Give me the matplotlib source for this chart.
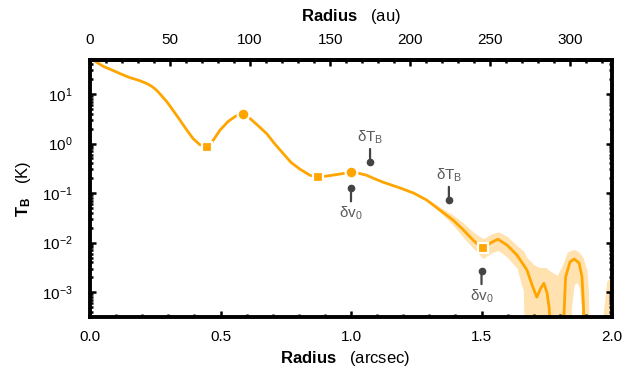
import numpy as np
import matplotlib
matplotlib.use("Agg")
import matplotlib.pyplot as plt
from matplotlib.ticker import MultipleLocator, FixedLocator, LogLocator, NullFormatter, LogFormatterMathtext

plt.rcParams['font.family'] = ['Liberation Sans', 'DejaVu Sans']
plt.rcParams['mathtext.fontset'] = 'custom'
plt.rcParams['mathtext.rm'] = 'Liberation Sans'
plt.rcParams['mathtext.it'] = 'Liberation Sans:italic'
plt.rcParams['mathtext.bf'] = 'Liberation Sans:bold'

# ---- data (radius in arcsec, log10 T_B in K) ----
r_line = [0.0, 0.02, 0.05, 0.088, 0.12, 0.153, 0.19, 0.218, 0.235, 0.25, 0.265, 0.28, 0.295,
          0.31, 0.325, 0.345, 0.37, 0.395, 0.42, 0.448, 0.47, 0.498, 0.53, 0.563, 0.587,
          0.61, 0.64, 0.677, 0.71, 0.74, 0.77, 0.805, 0.843, 0.874, 0.94, 1.0, 1.03, 1.06,
          1.09, 1.123, 1.19, 1.24, 1.29, 1.34, 1.39, 1.43, 1.468, 1.49, 1.506, 1.54, 1.563,
          1.598, 1.636, 1.674, 1.697, 1.712, 1.727, 1.739, 1.751, 1.759, 1.765, 1.77, 1.81,
          1.815, 1.822, 1.839, 1.855, 1.874, 1.885, 1.891, 1.895, 2.0]
logT_line = [1.72, 1.66, 1.56, 1.475, 1.40, 1.33, 1.27, 1.21, 1.16, 1.10, 1.02, 0.93, 0.84,
             0.73, 0.62, 0.47, 0.28, 0.10, -0.02, -0.07, 0.05, 0.27, 0.45, 0.57, 0.59,
             0.52, 0.38, 0.20, -0.02, -0.20, -0.38, -0.52, -0.64, -0.68, -0.63, -0.58, -0.60, -0.64,
             -0.71, -0.78, -0.90, -1.00, -1.14, -1.34, -1.54, -1.74, -1.95, -2.05, -2.10, -1.99, -1.93,
             -2.05, -2.25, -2.55, -2.90, -3.10, -2.92, -2.82, -3.01, -3.30, -3.80, -6.0, -6.0,
             -3.6, -2.7, -2.39, -2.33, -2.41, -2.69, -3.30, -6.0, -6.0]

r_band = [1.30, 1.35, 1.39, 1.43, 1.47, 1.506, 1.54, 1.565, 1.60, 1.636, 1.66, 1.674,
          1.70, 1.72, 1.745, 1.765, 1.79, 1.81, 1.828, 1.84, 1.845, 1.855, 1.865, 1.875,
          1.884, 1.889, 1.904, 1.91, 1.92, 1.95, 1.965, 1.98, 2.0]
logT_hi = [-1.145, -1.31, -1.44, -1.60, -1.79, -1.92, -1.82, -1.78, -1.88, -2.06, -2.16, -2.30,
           -2.44, -2.50, -2.50, -2.58, -2.66, -2.46, -2.20, -2.16, -2.15, -2.14, -2.16, -2.20,
           -2.26, -2.30, -2.56, -3.00, -6.0, -6.0, -3.50, -2.78, -2.66]
logT_lo = [-1.19, -1.43, -1.64, -1.89, -2.12, -2.32, -2.20, -2.16, -2.30, -2.52, -2.97, -6.0,
           -6.0, -6.0, -6.0, -6.0, -6.0, -6.0, -6.0, -6.0, -3.30, -2.85, -2.80, -2.90,
           -3.40, -6.0, -6.0, -6.0, -6.0, -6.0, -6.0, -6.0, -6.0]

r_square = [0.448, 0.874, 1.506]
logT_square = [-0.07, -0.68, -2.10]
r_circle = [0.587, 1.0]
logT_circle = [0.59, -0.58]

# resolution pins: (radius, log T, label, direction)
pin_r = [1.073, 1.0, 1.375, 1.5]
pin_logT = [-0.376, -0.90, -1.14, -2.57]
pin_text = ['δT$_\\mathregular{B}$', 'δv$_\\mathregular{0}$', 'δT$_\\mathregular{B}$', 'δv$_\\mathregular{0}$']
pin_up = [True, False, True, False]

x_ticks_major = [0.0, 0.5, 1.0, 1.5, 2.0]
au_ticks_major = [0, 50, 100, 150, 200, 250, 300]
au_per_arcsec = 163.0

orange = '#FFA500'
band_col = '#FFE2B0'
gray = '#5a5a5a'

fig = plt.figure(figsize=(6.34, 3.75), dpi=100)
ax = fig.add_axes([90/634, 58/375, 522/634, 257/375])

T = lambda a: 10.0**np.asarray(a)
ax.fill_between(r_band, T(logT_lo), T(logT_hi), color=band_col, lw=0, zorder=1)
ax.plot(r_line, T(logT_line), color=orange, lw=2.0, zorder=2, solid_capstyle='butt')
ax.plot(r_square, T(logT_square), ls='none', marker='s', ms=7.5, mfc=orange,
        mec='white', mew=1.6, zorder=3)
ax.plot(r_circle, T(logT_circle), ls='none', marker='o', ms=8.5, mfc=orange,
        mec='white', mew=1.6, zorder=3)

for x, lt, txt, up in zip(pin_r, pin_logT, pin_text, pin_up):
    y = 10**lt
    s = 1 if up else -1
    ax.annotate('', xy=(x, y), xytext=(0, s*9.5), textcoords='offset points',
                arrowprops=dict(arrowstyle='-', color='#444444', lw=1.6,
                                shrinkA=0, shrinkB=0), zorder=4)
    ax.plot([x], [y], marker='o', ms=4.5, color='#444444', zorder=4)
    ax.annotate(txt, xy=(x, y), xytext=(0, s*18), textcoords='offset points',
                ha='center', va='center', color=gray, fontsize=11, zorder=4)

ax.set_yscale('log')
ax.set_xlim(0, 2.0)
ax.set_ylim(10**-3.5, 10**1.686)

ax.xaxis.set_major_locator(FixedLocator(x_ticks_major))
ax.xaxis.set_minor_locator(MultipleLocator(0.1))
ax.set_xticklabels([f'{v:.1f}' for v in x_ticks_major])
ax.yaxis.set_major_locator(LogLocator(base=10, numticks=20))
ax.yaxis.set_minor_locator(LogLocator(base=10, subs=np.arange(2, 10), numticks=50))
ax.yaxis.set_minor_formatter(NullFormatter())
ax.yaxis.set_major_formatter(LogFormatterMathtext())

for sp in ax.spines.values():
    sp.set_linewidth(2.8)

ax.tick_params(which='both', direction='in', right=True, top=False, width=1.8,
               labelsize=11)
ax.tick_params(which='major', length=4.5)
ax.tick_params(which='minor', length=2.5)
ax.tick_params(axis='x', pad=9.5)
ax.tick_params(axis='y', pad=12.5)

sec = ax.secondary_xaxis('top', functions=(lambda x: x*au_per_arcsec,
                                           lambda x: x/au_per_arcsec))
sec.xaxis.set_major_locator(FixedLocator(au_ticks_major))
sec.xaxis.set_minor_locator(MultipleLocator(10))
sec.tick_params(which='both', direction='in', width=1.8, labelsize=11, pad=9.5)
sec.tick_params(which='major', length=4.5)
sec.tick_params(which='minor', length=2.5)
sec.spines['top'].set_linewidth(2.8)
sec.set_xlabel(r'$\mathbf{Radius}$' + '   (au)', fontsize=12, labelpad=8.5)

ax.set_xlabel(r'$\mathbf{Radius}$' + '   (arcsec)', fontsize=12)
ax.xaxis.set_label_coords(0.489, -0.125)
ax.set_ylabel(r'$\mathbf{T_B}$' + '   (K)', fontsize=12)
ax.yaxis.set_label_coords(-0.11, 0.5)

fig.savefig('out.png', dpi=100)
